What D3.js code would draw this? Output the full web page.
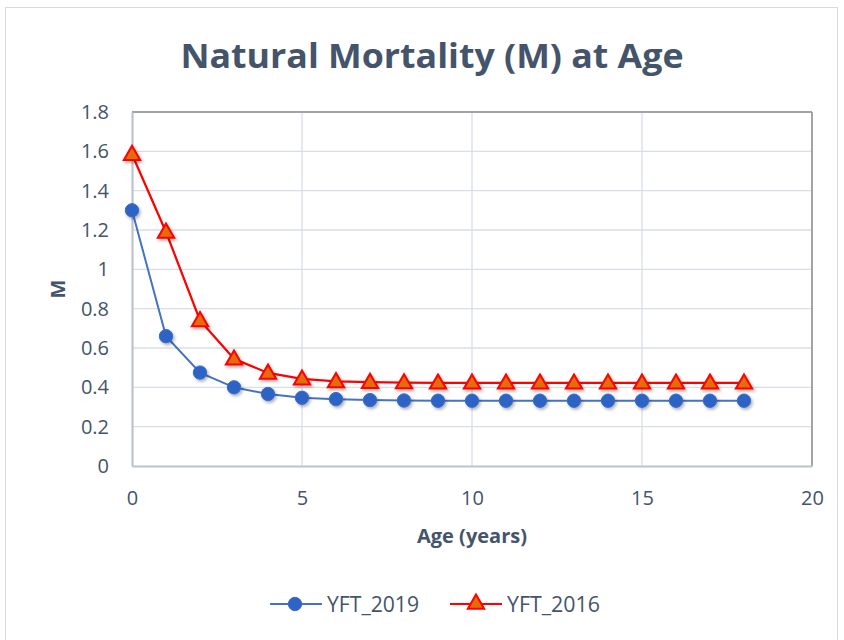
<!DOCTYPE html>
<html><head><meta charset="utf-8">
<script src="https://cdn.jsdelivr.net/npm/d3@7"></script>
<style>body{margin:0;background:#fff;} svg{display:block;}</style>
</head><body>
<script>
const ages = [0,1,2,3,4,5,6,7,8,9,10,11,12,13,14,15,16,17,18];
const yft2019 = [1.30,0.66,0.475,0.40,0.366,0.347,0.34,0.335,0.333,0.332,0.332,0.332,0.332,0.332,0.332,0.332,0.332,0.332,0.332];
const yft2016 = [1.585,1.19,0.74,0.545,0.473,0.443,0.43,0.426,0.424,0.423,0.423,0.423,0.423,0.423,0.423,0.423,0.423,0.423,0.423];
const xTicks = [0,5,10,15,20];
const yTicks = [0,0.2,0.4,0.6,0.8,1,1.2,1.4,1.6,1.8];
const seriesNames = ["YFT_2019","YFT_2016"];

const W=844,H=640;
const svg=d3.select("body").append("svg").attr("width",W).attr("height",H);
const defs=svg.append("defs");
const f=defs.append("filter").attr("id","sh").attr("x","-50%").attr("y","-50%").attr("width","200%").attr("height","200%");
f.append("feDropShadow").attr("dx",1.5).attr("dy",2).attr("stdDeviation",1.5).attr("flood-color","#000").attr("flood-opacity",0.3);

svg.append("rect").attr("x",5.5).attr("y",7.5).attr("width",832).attr("height",640).attr("fill","#fff").attr("stroke","#D9D9D9");

const x=d3.scaleLinear().domain([0,20]).range([132,812]);
const y=d3.scaleLinear().domain([0,1.8]).range([466,112]);
const font="'Open Sans', 'Noto Sans', sans-serif";
const txtCol="#44546A";

// gridlines
svg.append("g").selectAll("line.h").data(yTicks.slice(1)).join("line")
 .attr("x1",x(0)).attr("x2",x(20)).attr("y1",d=>y(d)).attr("y2",d=>y(d))
 .attr("stroke","#D9DEE6").attr("stroke-width",1.3);
svg.append("g").selectAll("line.v").data(xTicks.slice(1)).join("line")
 .attr("y1",y(0)).attr("y2",y(1.8)).attr("x1",d=>x(d)).attr("x2",d=>x(d))
 .attr("stroke","#D9DEE6").attr("stroke-width",1.3);
// plot border
svg.append("line").attr("x1",x(0)).attr("x2",x(20)).attr("y1",y(1.8)).attr("y2",y(1.8)).attr("stroke","#8C8C8C").attr("stroke-width",1.5);
svg.append("line").attr("x1",x(20)).attr("x2",x(20)).attr("y1",y(1.8)).attr("y2",y(0)).attr("stroke","#8C8C8C").attr("stroke-width",1.5);

// axes
const xa=svg.append("g").attr("transform",`translate(0,${y(0)})`).call(d3.axisBottom(x).tickValues(xTicks).tickSize(0).tickPadding(25).tickFormat(d3.format("d")));
const ya=svg.append("g").attr("transform",`translate(${x(0)},0)`).call(d3.axisLeft(y).tickValues(yTicks).tickSize(0).tickPadding(23).tickFormat(d=>d3.format("")(+d.toFixed(1))));
[xa,ya].forEach(a=>{a.select(".domain").attr("stroke","#BCC3CD").attr("stroke-width",2.2);
 a.selectAll("text").attr("font-family",font).attr("font-size",20).attr("fill",txtCol);});
xa.selectAll("text").attr("dy","0.71em");

// title & axis titles
svg.append("text").attr("x",432).attr("y",68).attr("text-anchor","middle").attr("font-family",font)
 .attr("font-weight","bold").attr("font-size",34).attr("fill",txtCol).attr("textLength",503).attr("lengthAdjust","spacingAndGlyphs")
 .text("Natural Mortality (M) at Age");
svg.append("text").attr("x",472).attr("y",543).attr("text-anchor","middle").attr("font-family",font)
 .attr("font-weight","bold").attr("font-size",19.5).attr("fill",txtCol).attr("textLength",110).attr("lengthAdjust","spacingAndGlyphs").text("Age (years)");
svg.append("text").attr("transform","translate(65,289) rotate(-90)").attr("text-anchor","middle").attr("font-family",font)
 .attr("font-weight","bold").attr("font-size",20).attr("fill",txtCol).text("M");

const line=d3.line().x((d,i)=>x(ages[i])).y(d=>y(d));
const tri=d3.symbol().type(d3.symbolTriangle).size(115);

// 2019 series
svg.append("path").datum(yft2019).attr("d",line).attr("fill","none").attr("stroke","#4472C4").attr("stroke-width",2);
// 2016 series
svg.append("path").datum(yft2016).attr("d",line).attr("fill","none").attr("stroke","#FF0000").attr("stroke-width",2.25);
svg.append("g").selectAll("circle").data(yft2019).join("circle")
 .attr("cx",(d,i)=>x(ages[i])).attr("cy",d=>y(d)).attr("r",6.7)
 .attr("fill","#2F63C6").attr("stroke","#3A6CC8").attr("stroke-width",1).attr("filter","url(#sh)");
svg.append("g").selectAll("path.t").data(yft2016).join("path")
 .attr("d",tri).attr("transform",(d,i)=>`translate(${x(ages[i])},${y(d)+1})`)
 .attr("fill","#E36C09").attr("stroke","#FF0000").attr("stroke-width",2).attr("filter","url(#sh)");

// legend
const lg=svg.append("g");
lg.append("line").attr("x1",270).attr("x2",322).attr("y1",604).attr("y2",604).attr("stroke","#4472C4").attr("stroke-width",2);
lg.append("circle").attr("cx",295).attr("cy",604).attr("r",6.7).attr("fill","#2F63C6").attr("stroke","#3A6CC8");
lg.append("text").attr("x",327).attr("y",612).attr("font-family",font).attr("font-size",21).attr("fill",txtCol).attr("textLength",92).attr("lengthAdjust","spacingAndGlyphs").text(seriesNames[0]);
lg.append("line").attr("x1",450).attr("x2",502).attr("y1",604).attr("y2",604).attr("stroke","#FF0000").attr("stroke-width",2);
lg.append("path").attr("d",tri).attr("transform","translate(476,604)").attr("fill","#E36C09").attr("stroke","#FF0000").attr("stroke-width",2);
lg.append("text").attr("x",507).attr("y",612).attr("font-family",font).attr("font-size",21).attr("fill",txtCol).attr("textLength",93).attr("lengthAdjust","spacingAndGlyphs").text(seriesNames[1]);
</script>
</body></html>
